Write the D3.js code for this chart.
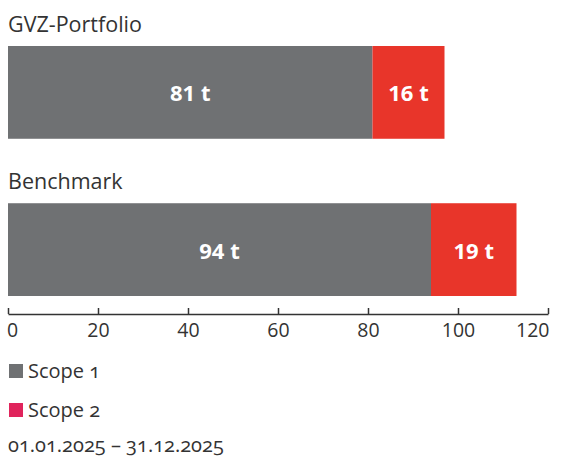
<!DOCTYPE html>
<meta charset="utf-8">
<style>
  body { margin: 0; background: #fff; }
  svg text { font-family: "Open Sans", sans-serif; font-variant-numeric: oldstyle-nums; }
</style>
<body>
<svg id="chart" width="570" height="461"></svg>
<script src="https://cdn.jsdelivr.net/npm/d3@7"></script>
<script>
// data
var groups = ["GVZ-Portfolio", "Benchmark"];
var scope1 = [81, 94];
var scope2 = [16, 19];
var series = ["Scope 1", "Scope 2"];
var axisTicks = [0, 20, 40, 60, 80, 100, 120];
var period = "01.01.2025 \u2013 31.12.2025";

var grey = "#6f7173", red = "#e8352a", legendRed = "#e0245c", ink = "#333";

var svg = d3.select("#chart");

var x = d3.scaleLinear().domain([0, 120]).range([8, 548]);
var yRow = d3.scaleBand().domain(groups).range([46, 296]).paddingInner(0.41);

var rows = groups.map((g, i) => ({ name: g, s1: scope1[i], s2: scope2[i] }));

var row = svg.selectAll(".row").data(rows).enter().append("g").attr("class", "row");

row.append("text")
  .attr("x", 8)
  .attr("y", d => yRow(d.name) - 14.5)
  .style("font-size", "21.5px")
  .style("fill", ink)
  .text(d => d.name);

row.append("rect")
  .attr("x", x(0))
  .attr("y", d => yRow(d.name))
  .attr("width", d => x(d.s1) - x(0))
  .attr("height", yRow.bandwidth())
  .attr("fill", grey);

row.append("rect")
  .attr("x", d => x(d.s1))
  .attr("y", d => yRow(d.name))
  .attr("width", d => x(d.s1 + d.s2) - x(d.s1))
  .attr("height", yRow.bandwidth())
  .attr("fill", red);

function barLabel(sel, cx, val) {
  sel.append("text")
    .attr("x", cx)
    .attr("y", d => yRow(d.name) + yRow.bandwidth() / 2 + 1)
    .attr("dy", "0.36em")
    .attr("text-anchor", "middle")
    .style("font-size", "22px").style("font-weight", "bold")
    .style("font-variant-numeric", "lining-nums")
    .style("fill", "#fff")
    .text(d => val(d) + " t");
}
barLabel(row, d => (x(0) + x(d.s1)) / 2, d => d.s1);
barLabel(row, d => (x(d.s1) + x(d.s1 + d.s2)) / 2, d => d.s2);

// axis
var ax = svg.append("g")
  .attr("transform", "translate(0,314)")
  .call(d3.axisBottom(x).tickValues(axisTicks).tickSize(-6).tickSizeOuter(0).tickPadding(9));
ax.select(".domain").attr("stroke", ink).attr("stroke-width", 1.5);
ax.selectAll(".tick line").attr("stroke", ink).attr("stroke-width", 1.5);
ax.selectAll(".tick text")
  .attr("fill", ink)
  .style("font-family", "'Open Sans', sans-serif")
  .style("font-size", "19.5px")
  .style("font-variant-numeric", "lining-nums")
  .attr("text-anchor", d => d === 120 ? "end" : "middle")
  .attr("x", d => d === 120 ? 1 : (d === 0 ? 4 : 0));

// legend
var colours = [grey, legendRed];
var yLeg = d3.scalePoint().domain(series).range([378, 417]);
var leg = svg.selectAll(".leg").data(series).enter().append("g").attr("class", "leg");
leg.append("rect")
  .attr("x", 9).attr("y", d => yLeg(d) - 14)
  .attr("width", 14).attr("height", 14)
  .attr("fill", (d, i) => colours[i]);
leg.append("text")
  .attr("x", 28).attr("y", d => yLeg(d))
  .style("font-size", "20px").style("fill", ink)
  .text(d => d);

svg.append("text")
  .attr("x", 8).attr("y", 452)
  .style("font-size", "20px").style("fill", ink)
  .text(period);
</script>
</body>
